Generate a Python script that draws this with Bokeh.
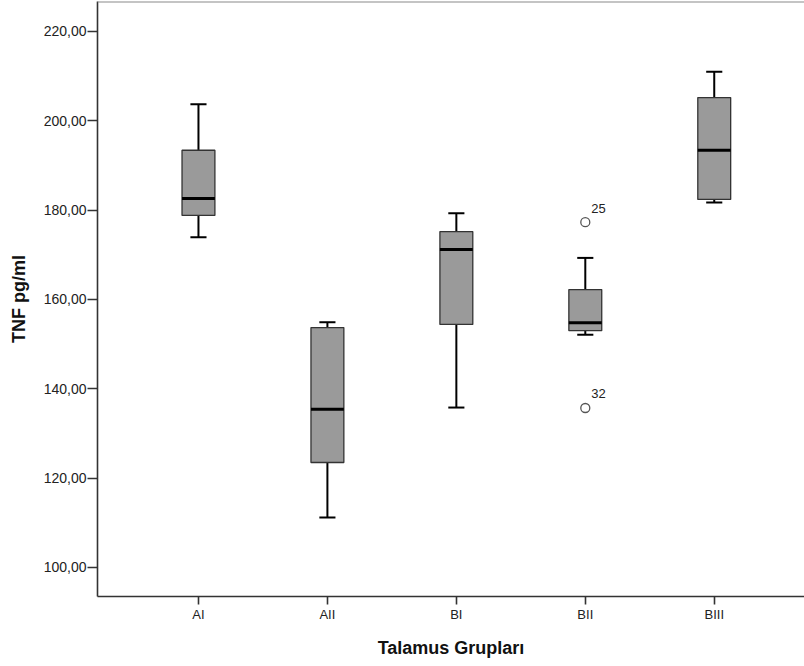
from bokeh.plotting import figure
from bokeh.models import FixedTicker, Range1d, Span, ColumnDataSource
from bokeh.core.properties import value
from bokeh.embed import file_html
from bokeh.resources import INLINE

# ---- data ----
groups = ["AI", "AII", "BI", "BII", "BIII"]
whisker_low = [173.9, 111.2, 135.8, 152.1, 181.7]
q1 = [178.8, 123.5, 154.4, 153.0, 182.4]
median = [182.6, 135.4, 171.2, 154.8, 193.4]
q3 = [193.4, 153.7, 175.2, 162.2, 205.2]
whisker_high = [203.7, 154.9, 179.3, 169.3, 211.0]
outlier_group = ["BII", "BII"]
outlier_values = [177.3, 135.7]
outlier_labels = ["25", "32"]
y_ticks = [100, 120, 140, 160, 180, 200, 220]
y_tick_labels = ["100,00", "120,00", "140,00", "160,00", "180,00", "200,00", "220,00"]

FONT = "Liberation Sans"
box_w = 0.255
cap_w = 0.125
Y_TOP = 226.7

xs = list(range(len(groups)))
src = ColumnDataSource(dict(
    x=xs, lo=whisker_low, q1=q1, med=median, q3=q3, hi=whisker_high,
    xl=[x - box_w / 2 for x in xs], xr=[x + box_w / 2 for x in xs],
    cl=[x - cap_w / 2 for x in xs], cr=[x + cap_w / 2 for x in xs],
))

p = figure(width=804, height=666, output_backend="svg", toolbar_location=None,
           x_range=Range1d(-0.783, 4.70), y_range=Range1d(93.5, Y_TOP),
           min_border_left=97, min_border_bottom=70, min_border_top=1, min_border_right=0)
p.background_fill_color = "white"
p.border_fill_color = "white"
p.outline_line_color = None
p.xgrid.grid_line_color = None
p.ygrid.grid_line_color = None

# whiskers
p.segment(x0="x", y0="q3", x1="x", y1="hi", source=src, line_color="black", line_width=2)
p.segment(x0="x", y0="lo", x1="x", y1="q1", source=src, line_color="black", line_width=2)
p.segment(x0="cl", y0="hi", x1="cr", y1="hi", source=src, line_color="black", line_width=2)
p.segment(x0="cl", y0="lo", x1="cr", y1="lo", source=src, line_color="black", line_width=2)
# boxes
p.vbar(x="x", width=box_w, bottom="q1", top="q3", source=src,
       fill_color="#9a9a9a", line_color="#333333", line_width=1.3)
# medians
p.segment(x0="xl", y0="med", x1="xr", y1="med", source=src, line_color="black", line_width=3)

# outliers
ox = [groups.index(g) for g in outlier_group]
osrc = ColumnDataSource(dict(x=ox, y=outlier_values, t=outlier_labels))
p.scatter(x="x", y="y", source=osrc, marker="circle", size=9, fill_color="white",
          line_color="#555555", line_width=1.3)
p.text(x="x", y="y", text="t", source=osrc, x_offset=6, y_offset=-14,
       text_font=value(FONT), text_font_size="13px", text_color="#222222",
       text_baseline="middle", text_align="left")

# top border
p.add_layout(Span(location=Y_TOP, dimension="width", line_color="#8a8a8a", line_width=2))

# axes
p.xaxis.ticker = FixedTicker(ticks=xs)
p.xaxis.major_label_overrides = {i: g for i, g in enumerate(groups)}
p.yaxis.ticker = FixedTicker(ticks=y_ticks)
p.yaxis.major_label_overrides = {t: l for t, l in zip(y_ticks, y_tick_labels)}
for ax in (p.xaxis, p.yaxis):
    ax.axis_line_color = "#333333"
    ax.axis_line_width = 1.6
    ax.major_tick_line_color = "#333333"
    ax.major_tick_line_width = 1.6
    ax.major_tick_in = 0
    ax.minor_tick_line_color = None
    ax.major_label_text_font = FONT
    ax.major_label_text_color = "#222222"
    ax.axis_label_text_font = FONT
    ax.axis_label_text_font_size = "18px"
    ax.axis_label_text_font_style = "bold"
    ax.axis_label_text_color = "#111111"
p.xaxis.major_label_text_font_size = "13px"
p.yaxis.major_label_text_font_size = "14px"
p.xaxis.major_tick_out = 8
p.yaxis.major_tick_out = 10
p.xaxis.major_label_standoff = 2
p.yaxis.major_label_standoff = 1
p.xaxis.axis_label = "Talamus Grupları"
p.yaxis.axis_label = "TNF pg/ml"
p.xaxis.axis_label_standoff = 13
p.yaxis.axis_label_standoff = 12

open("out.html", "w").write(file_html(p, INLINE))
